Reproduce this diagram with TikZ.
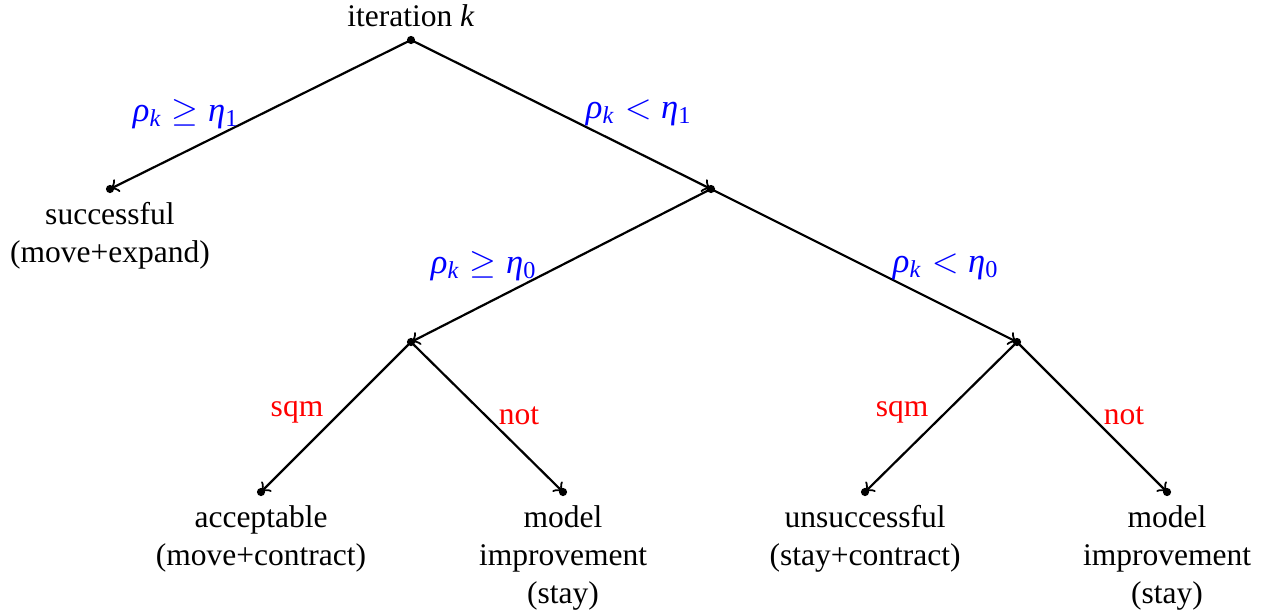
\documentclass[tikz,border=0pt]{standalone}
\usepackage{fontspec}
\setmainfont{Liberation Serif}
\newcommand{\rk}{\textit{ρ}\textsubscript{\textit{k}}}
\newcommand{\et}[1]{\textit{η}\textsubscript{#1}}
\newcommand{\rl}[1]{$\;#1\;$}
\begin{document}
\begin{tikzpicture}[x=0.01115cm,y=-0.01115cm,
  dotpt/.style={circle,fill=black,inner sep=0pt,minimum size=2.6pt},
  edge/.style={->,line width=0.7pt,shorten >=0.3pt},
  lblb/.style={text=blue,inner sep=0pt,font=\fontsize{11}{13}\selectfont},
  lblr/.style={text=red,inner sep=0pt},
  txt/.style={align=center,inner sep=0pt,anchor=north}]
\useasboundingbox (0,0) rectangle (1272,611);
% dots
\node[dotpt] (r) at (411,40) {};
\node[dotpt] (a) at (110,189) {};
\node[dotpt] (b) at (711,189) {};
\node[dotpt] (c) at (411,342) {};
\node[dotpt] (d) at (1017,342) {};
\node[dotpt] (e) at (261,492) {};
\node[dotpt] (f) at (563,492) {};
\node[dotpt] (g) at (865,492) {};
\node[dotpt] (h) at (1167,492) {};
% texts
\node[inner sep=0pt] (tr) at (411,16) {iteration \textit{k}};
\node[txt] (ta) at (110,202) {successful\\(move+expand)};
\node[txt] (te) at (261,505) {acceptable\\(move+contract)};
\node[txt] (tf) at (563,505) {model\\improvement\\(stay)};
\node[txt] (tg) at (865,505) {unsuccessful\\(stay+contract)};
\node[txt] (th) at (1167,505) {model\\improvement\\(stay)};
% edges
\draw[edge] (r.center) -- (a.center);
\draw[edge] (r.center) -- (b.center);
\draw[edge] (b.center) -- (c.center);
\draw[edge] (b.center) -- (d.center);
\draw[edge] (c.center) -- (e.center);
\draw[edge] (c.center) -- (f.center);
\draw[edge] (d.center) -- (g.center);
\draw[edge] (d.center) -- (h.center);
% labels
\node[lblb] (l1) at (186,114) {\rk\rl{\geq}\et{1}};
\node[lblb] (l2) at (639,113) {\rk\rl{<}\et{1}};
\node[lblb] (l3) at (484,266) {\rk\rl{\geq}\et{0}};
\node[lblb] (l4) at (946,267) {\rk\rl{<}\et{0}};
\node[lblr] (l5) at (297,412) {sqm};
\node[lblr] (l6) at (519,416) {not};
\node[lblr] (l7) at (902,412) {sqm};
\node[lblr] (l8) at (1124,416) {not};
\end{tikzpicture}
\end{document}
